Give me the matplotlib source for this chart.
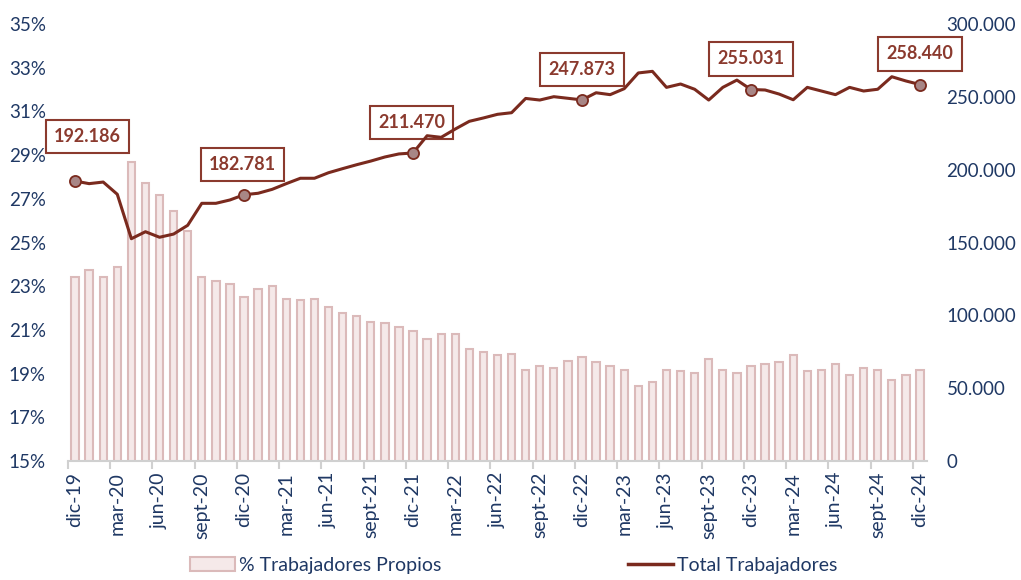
import numpy as np
import matplotlib
matplotlib.use('Agg')
import matplotlib.pyplot as plt
from matplotlib.lines import Line2D
from matplotlib.patches import Patch

# monthly, dic-19 .. dic-24
months = ['ene', 'feb', 'mar', 'abr', 'may', 'jun', 'jul', 'ago', 'sept', 'oct', 'nov', 'dic']
periods = ['dic-19'] + ['{}-{}'.format(m, y) for y in range(20, 25) for m in months]

pct_propios = [23.41, 23.74, 23.41, 23.89, 28.70, 27.74, 27.17, 26.44, 25.54, 23.41,
               23.25, 23.09, 22.52, 22.86, 23.01, 22.43, 22.35, 22.43, 22.03, 21.79,
               21.64, 21.38, 21.30, 21.15, 20.96, 20.57, 20.81, 20.81, 20.14, 19.99,
               19.84, 19.91, 19.18, 19.33, 19.26, 19.59, 19.75, 19.52, 19.35, 19.18,
               18.45, 18.60, 19.18, 19.10, 19.01, 19.67, 19.18, 19.01, 19.35, 19.43,
               19.52, 19.84, 19.10, 19.18, 19.43, 18.94, 19.26, 19.18, 18.69, 18.94,
               19.18]

total_trab = [192186, 190400, 191500, 183100, 152600, 157400, 153600, 155800, 161800, 176900,
              176900, 179200, 182781, 183800, 186500, 190400, 194100, 194100, 197900, 200700,
              203400, 205900, 208700, 210800, 211470, 223300, 222200, 227900, 233200, 235500,
              238000, 239100, 248900, 247800, 250100, 249000, 247873, 252800, 251500, 255600,
              266400, 267500, 256500, 258800, 255200, 247800, 256500, 261500, 255031, 254700,
              251900, 248000, 256500, 254000, 251500, 256500, 254000, 255200, 263800, 260900,
              258440]

# which december points get a box, and where the box sits (points)
label_idx = [0, 12, 24, 36, 48, 60]
label_off = [(9, 32), (-1, 22), (-1, 22), (0, 22), (0, 22), (0, 22)]

navy = '#1f3864'
brown = '#7a2a1e'
txt_red = '#8b3a2e'


def fmt_es(v):
	return '{:,.0f}'.format(v).replace(',', '.')


def main():
	plt.rcParams['font.family'] = ['Lato', 'DejaVu Sans']
	fig = plt.figure(figsize=(10.21, 5.80), dpi=100)
	ax = fig.add_axes([68 / 1021, 1 - 461 / 580, (927 - 68) / 1021, (461 - 24) / 580])
	ax2 = ax.twinx()

	x = np.arange(len(periods))
	ax.bar(x, pct_propios, width=0.52, bottom=0, color='#f5e9e9', edgecolor='#dbbaba', linewidth=1.5)
	ax.set_ylim(15, 35)
	ax.set_yticks(np.arange(15, 36, 2))
	ax.set_yticklabels(['{}%'.format(v) for v in range(15, 36, 2)])
	ax.set_xlim(-0.5, len(periods) - 0.5)

	# labels every 3 months at the bar, ticks at category edges
	lab_pos = x[::3]
	ax.set_xticks(lab_pos)
	ax.set_xticklabels([periods[i] for i in lab_pos], rotation=90)
	ax.set_xticks(lab_pos - 0.5, minor=True)
	ax.tick_params(axis='x', which='major', length=0, pad=8, labelsize=14, labelcolor=navy)
	ax.tick_params(axis='x', which='minor', length=6, width=1.5, color='#d0d0d0')
	ax.tick_params(axis='y', length=0, labelsize=13.5, labelcolor=navy, pad=16)

	ax2.plot(x, total_trab, color=brown, linewidth=2.2, zorder=3)
	ax2.plot(x[label_idx], [total_trab[i] for i in label_idx], 'o', ms=8,
	         mfc='#a88686', mec=brown, mew=1.3, zorder=4)
	for i, off in zip(label_idx, label_off):
		ax2.annotate(fmt_es(total_trab[i]), (x[i], total_trab[i]), xytext=off,
		             textcoords='offset points', ha='center', va='center',
		             fontsize=13, fontweight='bold', color=txt_red, zorder=2,
		             bbox=dict(boxstyle='square,pad=0.45', fc='white', ec=txt_red, lw=1.5))
	ax2.set_ylim(0, 300000)
	ax2.set_yticks(np.arange(0, 300001, 50000))
	ax2.set_yticklabels([fmt_es(v) for v in range(0, 300001, 50000)])
	ax2.tick_params(axis='y', length=0, labelsize=13.5, labelcolor=navy, pad=14)

	for a in (ax, ax2):
		for s in ['top', 'left', 'right']:
			a.spines[s].set_visible(False)
	ax.spines['bottom'].set_color('#d0d0d0')
	ax.spines['bottom'].set_linewidth(1.5)
	ax2.spines['bottom'].set_visible(False)

	handles = [Patch(facecolor='#f5e9e9', edgecolor='#dbbaba', linewidth=1.5),
	           Line2D([0], [0], color=brown, linewidth=2.5)]
	leg = fig.legend(handles, ['% Trabajadores Propios', 'Total Trabajadores'],
	                 loc='lower center', bbox_to_anchor=(0.503, -0.02), ncol=2, frameon=False,
	                 fontsize=14, handlelength=2.3, handletextpad=0.2, columnspacing=9.6)
	for t in leg.get_texts():
		t.set_color(navy)

	fig.savefig('out.png', dpi=100)


if __name__ == '__main__':
	main()
